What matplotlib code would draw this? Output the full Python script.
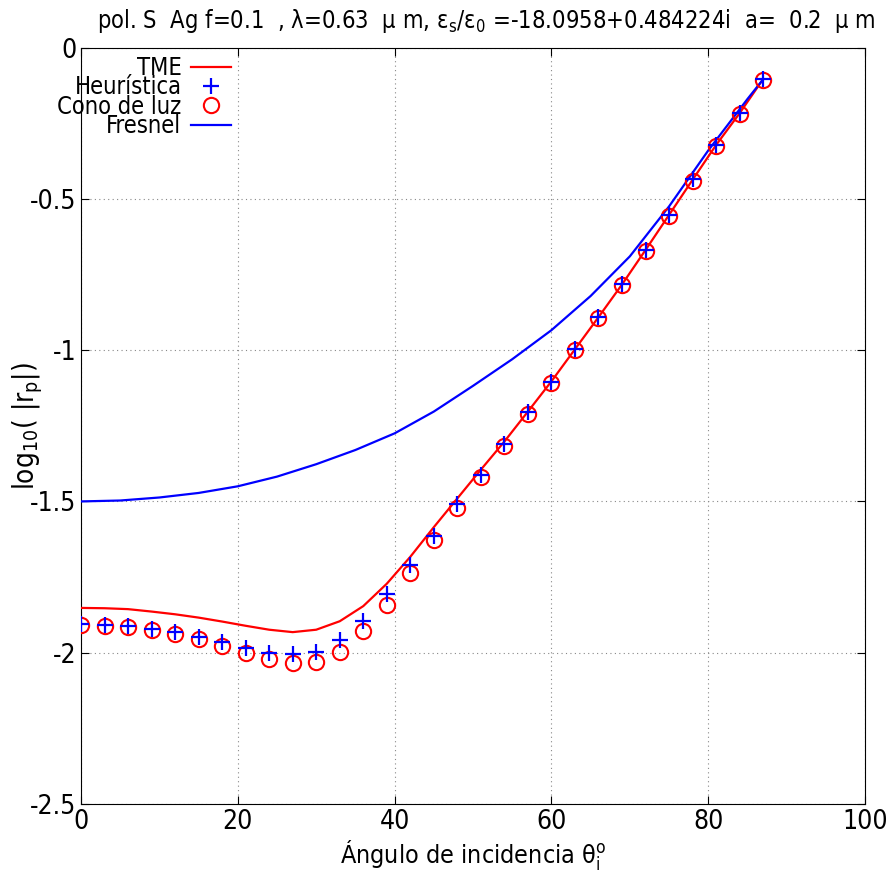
import matplotlib
matplotlib.use('Agg')
import matplotlib.pyplot as plt

plt.rcParams['font.family'] = ['DejaVu Sans']
plt.rcParams['font.stretch'] = 'condensed'
plt.rcParams['axes.unicode_minus'] = False

# angulos de incidencia (grados)
angulos = [0, 3, 6, 9, 12, 15, 18, 21, 24, 27, 30, 33, 36, 39, 42,
           45, 48, 51, 54, 57, 60, 63, 66, 69, 72, 75, 78, 81, 84, 87]

tme = [-1.852, -1.853, -1.856, -1.864, -1.873, -1.884, -1.897, -1.911,
       -1.924, -1.932, -1.924, -1.896, -1.846, -1.772, -1.683, -1.585,
       -1.490, -1.395, -1.302, -1.203, -1.103, -0.997, -0.891, -0.783,
       -0.669, -0.553, -0.437, -0.322, -0.217, -0.104]

heuristica = [-1.906, -1.909, -1.912, -1.920, -1.932, -1.949, -1.966, -1.983,
              -2.002, -2.003, -1.997, -1.957, -1.896, -1.805, -1.710, -1.615,
              -1.510, -1.413, -1.310, -1.205, -1.105, -0.997, -0.890, -0.782,
              -0.668, -0.552, -0.436, -0.322, -0.217, -0.104]

cono_luz = [-1.907, -1.911, -1.914, -1.924, -1.937, -1.954, -1.977, -2.000,
            -2.020, -2.033, -2.030, -1.997, -1.927, -1.841, -1.738, -1.629,
            -1.523, -1.420, -1.318, -1.212, -1.109, -1.000, -0.894, -0.785,
            -0.672, -0.556, -0.440, -0.325, -0.219, -0.106]

ang_fresnel = [0, 5, 10, 15, 20, 25, 30, 35, 40, 45, 50, 55, 60, 65, 70,
               75, 80, 85, 87]
fresnel = [-1.500, -1.497, -1.487, -1.472, -1.450, -1.418, -1.377, -1.330,
           -1.275, -1.203, -1.118, -1.030, -0.934, -0.821, -0.690, -0.525,
           -0.340, -0.170, -0.105]

yticks = [0, -0.5, -1, -1.5, -2, -2.5]
yticklabels = ['0', '-0.5', '-1', '-1.5', '-2', '-2.5']
xticks = [0, 20, 40, 60, 80, 100]

titulo = (r'pol. S  Ag f=0.1  , λ=0.63  μ m, ε$_\mathregular{s}$/ε$_\mathregular{0}$'
          r' =-18.0958+0.484224i  a=  0.2  μ m')

fig = plt.figure(figsize=(8.9, 8.76), dpi=100)
ax = fig.add_axes([0.091, 0.0822, 0.881, 0.8635])

ax.plot(angulos, tme, color='#ff0000', lw=1.6, label='TME', zorder=3)
ax.plot(angulos, heuristica, ls='none', marker='+', ms=12, mew=1.6,
        color='#0000ff', label='Heurística', zorder=5)
ax.plot(angulos, cono_luz, ls='none', marker='o', ms=11, mew=1.5,
        mfc='none', mec='#ff0000', label='Cono de luz', zorder=4)
ax.plot(ang_fresnel, fresnel, color='#0000ff', lw=1.6, label='Fresnel', zorder=3)

ax.set_xlim(0, 100)
ax.set_ylim(-2.5, 0)
ax.set_xticks(xticks)
ax.set_yticks(yticks)
ax.set_yticklabels(yticklabels)
ax.tick_params(direction='in', top=True, right=True, labelsize=19, length=6)
ax.grid(True, ls=(0, (1, 3)), color='#888888', lw=0.8)
for s in ax.spines.values():
    s.set_linewidth(0.8)

ax.set_xlabel(r'Ángulo de incidencia θ$_\mathregular{i}^\mathregular{o}$', fontsize=18, labelpad=2)
ax.set_ylabel(r'log$_\mathregular{10}$( |r$_\mathregular{p}$|)', fontsize=20)
ax.yaxis.label.set_va('center')
ax.yaxis.set_label_coords(-0.068, 0.5)
fig.text(486 / 890, 1 - 21 / 876, titulo, fontsize=17, ha='center', va='center')

leg = ax.legend(loc='upper right', bbox_to_anchor=(231 / 890, 1 - 56 / 876),
                bbox_transform=fig.transFigure, frameon=False, markerfirst=False,
                fontsize=17, labelspacing=-0.2, handlelength=1.7, handletextpad=0.4,
                borderpad=0, borderaxespad=0)

fig.savefig('out.png', dpi=100)
